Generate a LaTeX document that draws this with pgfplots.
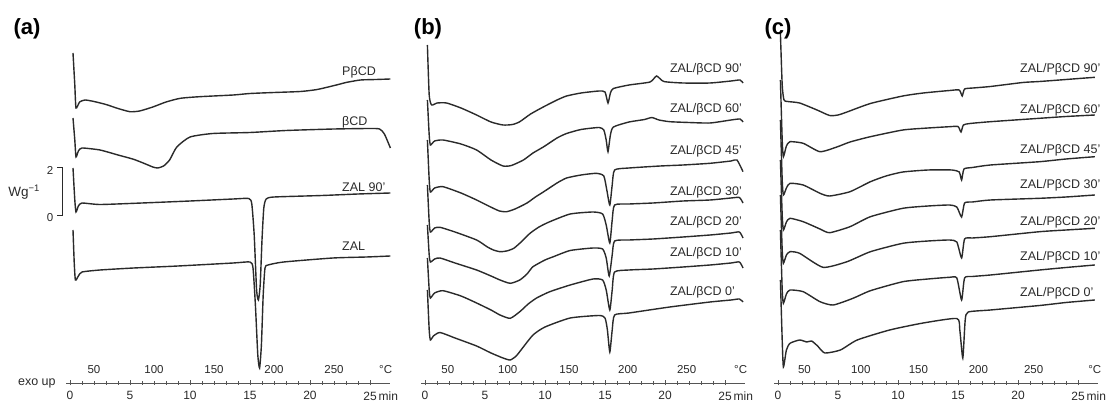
\documentclass[border=0pt]{standalone}
\usepackage{fontspec}
\setmainfont{Liberation Sans}
\usepackage{pgfplots}
\pgfplotsset{compat=1.18}
\definecolor{ink}{HTML}{2A2A2A}
\definecolor{rul}{HTML}{555555}
\pgfplotsset{
  dsc/.style={
    x=12pt, y=1pt,
    xmin=-0.3, xmax=26.7, ymin=24, ymax=400,
    axis x line*=bottom, axis y line=none,
    clip=false,
    xtick={0,5,10,15,20,25},
    xticklabels={0,5,10,15,20,25\rlap{\,min}},
    minor x tick num=4,
    tick align=center,
    major tick length=5pt, minor tick length=3.5pt,
    every tick/.style={rul, line width=0.7pt},
    axis line style={rul, line width=0.7pt},
    tick label style={font=\fontsize{12}{13}\selectfont, text=ink},
    xticklabel style={yshift=-2.5pt},
    /pgf/number format/assume math mode=true,
  },
  tr/.style={ink, line width=1.4pt, smooth, tension=0.35, mark=none},
}
\tikzset{
  tl/.style={font=\fontsize{11.5}{13}\selectfont, text=ink},
  lab/.style={font=\fontsize{12.5}{14}\selectfont, text=ink, anchor=west, inner sep=0pt},
  pan/.style={font=\fontsize{22}{24}\selectfont\bfseries, text=black},
}
\begin{document}
\begin{tikzpicture}
\path[use as bounding box] (0,0) rectangle (1109pt,407pt);
% ---------------- panel (a) ----------------
\begin{axis}[dsc, at={(66.4pt,24pt)}, anchor=south west]
% PbetaCD
\addplot[tr] table[y expr=407-\thisrowno{1}] {
0.25 53
0.4 85
0.5 108
0.8 102
1.25 100
2.0 101.5
3.0 104.5
4.0 108.5
5.0 111.7
5.8 111
6.9 107
8.0 102
9.2 98.3
10.8 96.7
13.6 95
15.0 93.5
17.0 92.5
19.2 91.5
20.6 89.5
22.2 85
23.0 82.5
24.2 80
25.5 79.5
26.7 79
};
% betaCD
\addplot[tr] table[y expr=407-\thisrowno{1}] {
0.25 118
0.4 140
0.5 157
0.7 151
1.0 148
2.5 150
4.0 155
5.3 159.3
6.3 164
6.9 167
7.3 168
7.8 166
8.3 160
8.9 147
10.0 137
11.9 133.5
15.0 132.5
18.0 130.5
22.0 129
25.0 128.5
25.8 129
26.2 134
26.7 148
};
% ZAL 90'
\addplot[tr] table[y expr=407-\thisrowno{1}] {
0.25 168
0.4 200
0.5 212
0.7 206
1.0 203
2.5 204.5
6.0 203
10.0 201
13.6 199
14.9 198.5
15.15 204
15.35 235
15.55 290
15.7 300
15.85 285
16.0 240
16.15 208
16.35 199
17.0 197
21.0 195.5
24.0 194
26.7 193
};
% ZAL
\addplot[tr] table[y expr=407-\thisrowno{1}] {
0.25 230
0.35 262
0.45 280
0.7 276
1.0 272
2.5 270
5.3 268
9.0 266
13.6 263
15.0 262
15.25 268
15.45 305
15.65 355
15.8 368
15.95 345
16.1 295
16.25 268
16.5 265
17.8 262
21.9 258
24.7 257
26.7 256
};
\node[lab] at (axis cs:22.67,335) {PβCD};
\node[lab] at (axis cs:22.67,285) {βCD};
\node[lab] at (axis cs:22.67,220) {ZAL 90'};
\node[lab] at (axis cs:22.67,161) {ZAL};
\node[tl] at (axis cs:2,37) {50};
\node[tl] at (axis cs:7,37) {100};
\node[tl] at (axis cs:12,37) {150};
\node[tl] at (axis cs:17,37) {200};
\node[tl] at (axis cs:22,37) {250};
\node[tl] at (axis cs:26.3,37) {°C};
\node[font=\fontsize{12.5}{14}\selectfont, text=ink, anchor=east] at (axis cs:-0.9,24) {exo up};
\node[pan] at (axis cs:-3.58,378) {(a)};
% scale bar
\draw[ink, line width=0.9pt] (axis cs:-1.05,240) -- (axis cs:-0.64,240) -- (axis cs:-0.64,192) -- (axis cs:-1.05,192);
\node[tl] at (axis cs:-1.67,237) {2};
\node[tl] at (axis cs:-1.67,189) {0};
\node[font=\fontsize{13.5}{15}\selectfont, text=ink] at (axis cs:-3.83,215) {Wg\textsuperscript{−1}};
\end{axis}
% ---------------- panel (b) ----------------
\begin{axis}[dsc, at={(421.4pt,24pt)}, anchor=south west]
% 90'
\addplot[tr] table[y expr=407-\thisrowno{1}] {
0.2 45
0.35 95
0.55 105
1.0 103
1.8 103
3.0 108
4.3 115
5.5 122
6.5 125
7.3 124.5
7.9 121.7
8.8 114
9.9 106.7
11.0 100
11.8 96
13.0 93
14.5 91
15.0 92
15.25 103
15.45 93
15.7 88.5
17.0 85
18.75 82
19.3 76
19.9 81.5
21.5 83
23.75 83
25.5 81
26.25 80
26.5 83
};
% 60'
\addplot[tr] table[y expr=407-\thisrowno{1}] {
0.2 100
0.35 135
0.45 145
0.8 141
1.5 140
3.0 144
4.3 150
5.5 160
6.5 166
7.2 165.5
8.2 160
9.0 153
9.9 146.7
11.0 138
11.8 133.5
13.0 129.5
14.5 127.5
14.9 130
15.1 140
15.25 151.7
15.45 135
15.7 127
17.0 122
18.3 119.5
18.9 117.5
19.5 120
20.4 121.7
22.0 122.5
23.75 123
25.5 120
26.25 119
26.5 122
};
% 45'
\addplot[tr] table[y expr=407-\thisrowno{1}] {
0.2 140
0.35 180
0.45 192
0.8 188
1.5 186.7
3.0 193
4.3 200
5.3 206
6.2 211
6.8 211.7
7.5 209
8.5 203
9.2 197
9.9 191.7
11.0 183
11.8 178
13.0 175
14.3 173.3
14.9 176
15.15 190
15.4 205
15.6 185
15.8 170
17.0 168
19.6 166
21.5 165
23.75 163.3
25.5 161
26.0 160
26.5 171.7
};
% 30'
\addplot[tr] table[y expr=407-\thisrowno{1}] {
0.2 185
0.35 222
0.45 232
0.8 228
1.25 227.3
2.5 232
4.3 240
5.2 247
5.7 250
6.25 251.7
6.8 251
7.4 248.3
8.1 241
8.75 233.3
9.5 227
10.4 221.7
12.1 214
14.0 212
14.8 214
15.1 225
15.4 243
15.6 220
15.8 205
17.0 204
19.0 203
21.5 201
23.75 200
25.5 198
26.2 197.5
26.5 203
};
% 20'
\addplot[tr] table[y expr=407-\thisrowno{1}] {
0.2 225
0.35 255
0.45 262
0.8 259
1.25 258
2.5 263
4.3 270
5.5 276
6.25 280
7.1 283.3
7.9 280
8.5 274
9.0 266.7
10.0 260
10.7 256.7
12.1 250.5
14.0 248
14.8 249
15.1 258
15.35 276
15.6 255
15.8 241
17.0 240
19.0 239
21.5 237
23.75 235
25.5 233
26.2 232
26.5 238
};
% 10'
\addplot[tr] table[y expr=407-\thisrowno{1}] {
0.2 258
0.35 290
0.45 298
0.8 293
1.5 290.7
3.0 296
4.3 303
5.5 310
6.25 315
7.1 318.3
7.9 311.7
8.6 304
9.3 298
10.4 291.7
12.1 285
14.0 279
14.8 280
15.1 290
15.4 310
15.6 290
15.8 272
17.0 270
19.0 269
21.5 267
23.75 265
25.5 263
26.2 262
26.5 268
};
% 0'
\addplot[tr] table[y expr=407-\thisrowno{1}] {
0.2 290
0.35 330
0.45 340
0.7 336
1.25 332.5
2.5 338
4.3 346
5.5 353
6.5 358
7.1 360
7.6 356
8.0 350
9.0 335
10.0 327
12.1 318
14.5 315.5
15.0 318
15.2 330
15.4 352
15.6 330
15.8 315
17.0 313
20.4 307
23.75 302
25.5 300
26.2 299
26.5 302
};
\node[lab] at (axis cs:20.4,338) {ZAL/βCD 90'};
\node[lab] at (axis cs:20.4,298) {ZAL/βCD 60'};
\node[lab] at (axis cs:20.4,256) {ZAL/βCD 45'};
\node[lab] at (axis cs:20.4,215) {ZAL/βCD 30'};
\node[lab] at (axis cs:20.4,185) {ZAL/βCD 20'};
\node[lab] at (axis cs:20.4,154) {ZAL/βCD 10'};
\node[lab] at (axis cs:20.4,115) {ZAL/βCD 0'};
\node[tl] at (axis cs:1.9,37) {50};
\node[tl] at (axis cs:6.9,37) {100};
\node[tl] at (axis cs:12.0,37) {150};
\node[tl] at (axis cs:16.9,37) {200};
\node[tl] at (axis cs:21.8,37) {250};
\node[tl] at (axis cs:26.3,37) {°C};
\node[pan] at (axis cs:0.25,378) {(b)};
\end{axis}
% ---------------- panel (c) ----------------
\begin{axis}[dsc, at={(774.4pt,24pt)}, anchor=south west]
% 90'
\addplot[tr] table[y expr=407-\thisrowno{1}] {
0.2 33
0.35 85
0.5 100
0.8 101.5
1.8 103
3.25 110
4.3 115.5
5.0 115
5.75 112
7.7 103.5
10.4 96
12.1 93
14.3 90.5
15.1 90
15.35 96
15.55 89
16.25 88
17.7 86.5
20.4 82.5
21.8 81.5
24.0 79.5
26.4 77.3
};
% 60'
\addplot[tr] table[y expr=407-\thisrowno{1}] {
0.2 80
0.35 140
0.45 156.7
0.7 146
1.0 141.7
2.1 143.3
3.5 151.7
4.9 147
6.0 142
7.7 136.7
10.4 130
12.5 128
14.3 126.7
15.0 126.5
15.25 132
15.45 125
16.0 123.5
17.7 121.7
21.8 118.3
24.0 116.5
26.4 115
};
% 45'
\addplot[tr] table[y expr=407-\thisrowno{1}] {
0.2 120
0.35 180
0.45 195
0.7 188
1.0 183.3
2.1 185
3.5 193.3
4.3 196
6.0 191.7
7.7 181.7
9.0 176
10.4 172
12.5 170
14.5 170
15.1 172
15.3 180
15.5 169
16.2 167.5
17.7 165
21.8 161.7
24.0 159
26.4 156.7
};
% 30'
\addplot[tr] table[y expr=407-\thisrowno{1}] {
0.2 160
0.35 215
0.45 230
0.7 222
1.0 218.3
2.1 221.7
3.5 229
4.3 232.7
6.0 226.7
7.7 216.7
10.4 208.3
12.5 206
14.3 205
14.9 207
15.3 217
15.55 203
16.2 202
17.7 200
21.8 198.3
24.0 197
26.4 195
};
% 20'
\addplot[tr] table[y expr=407-\thisrowno{1}] {
0.2 195
0.35 250
0.45 263.3
0.7 255
1.0 251.7
1.8 253.3
3.75 267.3
5.75 261.7
7.7 251.7
10.4 243.3
12.5 241
14.3 240
14.9 242
15.3 258
15.55 239
16.2 238
17.7 236.7
21.8 231.7
24.0 230
26.4 228.3
};
% 10'
\addplot[tr] table[y expr=407-\thisrowno{1}] {
0.2 230
0.35 290
0.45 303.3
0.7 294
1.0 290
2.1 291.7
3.5 301.7
4.6 305
6.25 298.3
7.7 290.7
10.4 281.7
12.5 279
14.3 277.3
14.9 278
15.3 300
15.55 278
16.2 276.5
17.7 275
21.8 270
24.0 267.5
26.4 265
};
% 0'
\addplot[tr] table[y expr=407-\thisrowno{1}] {
0.2 280
0.35 340
0.45 367
0.7 350
1.0 343.3
1.8 340
2.4 342
2.8 341
3.3 346
3.9 353
5.2 350
6.6 340
9.3 330
12.1 323
14.9 318.5
15.15 330
15.4 358
15.6 320
15.85 312
17.7 310
21.8 305.5
24.0 302.5
26.4 300
};
\node[lab] at (axis cs:20.17,338) {ZAL/PβCD 90'};
\node[lab] at (axis cs:20.17,297) {ZAL/PβCD 60'};
\node[lab] at (axis cs:20.17,257) {ZAL/PβCD 45'};
\node[lab] at (axis cs:20.17,222) {ZAL/PβCD 30'};
\node[lab] at (axis cs:20.17,185) {ZAL/PβCD 20'};
\node[lab] at (axis cs:20.17,150) {ZAL/PβCD 10'};
\node[lab] at (axis cs:20.17,114) {ZAL/PβCD 0'};
\node[tl] at (axis cs:2.2,37) {50};
\node[tl] at (axis cs:6.9,37) {100};
\node[tl] at (axis cs:11.7,37) {150};
\node[tl] at (axis cs:16.7,37) {200};
\node[tl] at (axis cs:21.3,37) {250};
\node[tl] at (axis cs:26.4,37) {°C};
\node[pan] at (axis cs:0,378) {(c)};
\end{axis}
\end{tikzpicture}
\end{document}
